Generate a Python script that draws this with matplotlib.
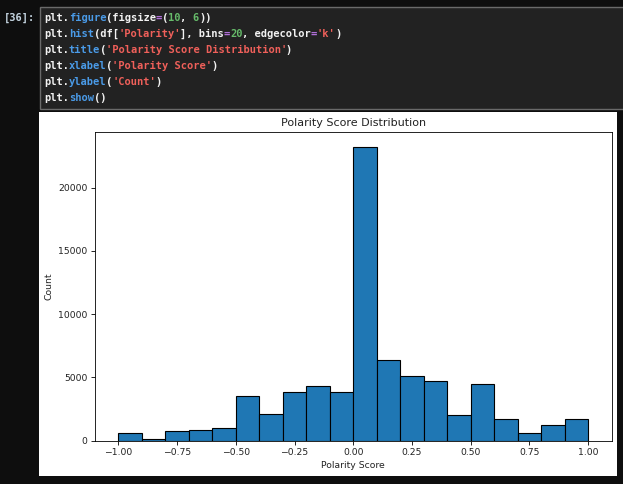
import numpy as np
import matplotlib
matplotlib.use("Agg")
import matplotlib.pyplot as plt
from matplotlib.patches import Rectangle

# Histogram counts, one per bin
bin_edges = np.linspace(-1, 1, 21)
counts = [630, 110, 740, 815, 1000, 3540, 2110, 3830, 4280, 3830,
          23250, 6340, 5120, 4700, 2000, 4460, 1740, 580, 1210, 1690]

# Notebook cell text as (text, colour) tokens
WHITE = "#f2f2f2"
BLUE = "#4a9be8"
RED = "#f0605a"
GREEN = "#66bb6a"
PURPLE = "#b06fd8"
code_lines = [
    [("plt.", WHITE), ("figure", BLUE), ("(figsize", WHITE), ("=", PURPLE), ("(", WHITE), ("10", GREEN), (", ", WHITE), ("6", GREEN), ("))", WHITE)],
    [("plt.", WHITE), ("hist", BLUE), ("(df[", WHITE), ("'Polarity'", RED), ("], bins", WHITE), ("=", PURPLE), ("20", GREEN), (", edgecolor", WHITE), ("=", PURPLE), ("'k'", RED), (")", WHITE)],
    [("plt.", WHITE), ("title", BLUE), ("(", WHITE), ("'Polarity Score Distribution'", RED), (")", WHITE)],
    [("plt.", WHITE), ("xlabel", BLUE), ("(", WHITE), ("'Polarity Score'", RED), (")", WHITE)],
    [("plt.", WHITE), ("ylabel", BLUE), ("(", WHITE), ("'Count'", RED), (")", WHITE)],
    [("plt.", WHITE), ("show", BLUE), ("()", WHITE)],
]

W, H = 623, 484
fig = plt.figure(figsize=(W / 100, H / 100), dpi=100, facecolor="#0e0e0e")


def box(x, y, w, h, **kw):
    # pixel box measured from the top left of the image
    fig.add_artist(Rectangle((x / W, 1 - (y + h) / H), w / W, h / H,
                             transform=fig.transFigure, zorder=-1, **kw))


def label(x, y, s, color):
    fig.text(x / W, 1 - y / H, s, color=color, fontsize=7.45, fontweight="bold",
             family="DejaVu Sans Mono", va="center", ha="left")


# Code cell, runs off the right edge of the screenshot
box(39.5, 6.5, 600, 102, facecolor="#222222", edgecolor="#6a6a6a", linewidth=1)
label(4, 18, "[36]:", "#c4d4e0")
char_w = 6.2
for row, tokens in enumerate(code_lines):
    col = 0
    for text, color in tokens:
        label(44 + col * char_w, 18 + row * 16, text, color)
        col += len(text)

# White output image
box(39, 112, 578, 364, facecolor="white", edgecolor="none")

# Histogram
ax = fig.add_axes([95 / W, 1 - 440.5 / H, (611.5 - 95) / W, (440.5 - 132) / H])
ax.hist(bin_edges[:-1], bins=bin_edges, weights=counts, edgecolor="k", linewidth=0.8)
ax.set_xlim(-1.1, 1.1)
ax.set_ylim(0, 24412)
ax.set_xticks([-1, -0.75, -0.5, -0.25, 0, 0.25, 0.5, 0.75, 1])
ax.set_yticks([0, 5000, 10000, 15000, 20000])
ax.tick_params(labelsize=6.7, length=2.8, width=0.6, pad=2.8, labelcolor="#222222")
for spine in ax.spines.values():
    spine.set_linewidth(0.6)
ax.set_title("Polarity Score Distribution", fontsize=8, pad=4, color="#222222")
ax.set_xlabel("Polarity Score", fontsize=6.7, labelpad=2.5, color="#222222")
ax.set_ylabel("Count", fontsize=6.7, labelpad=3, color="#222222")

fig.savefig("out.png", dpi=100, facecolor=fig.get_facecolor())
